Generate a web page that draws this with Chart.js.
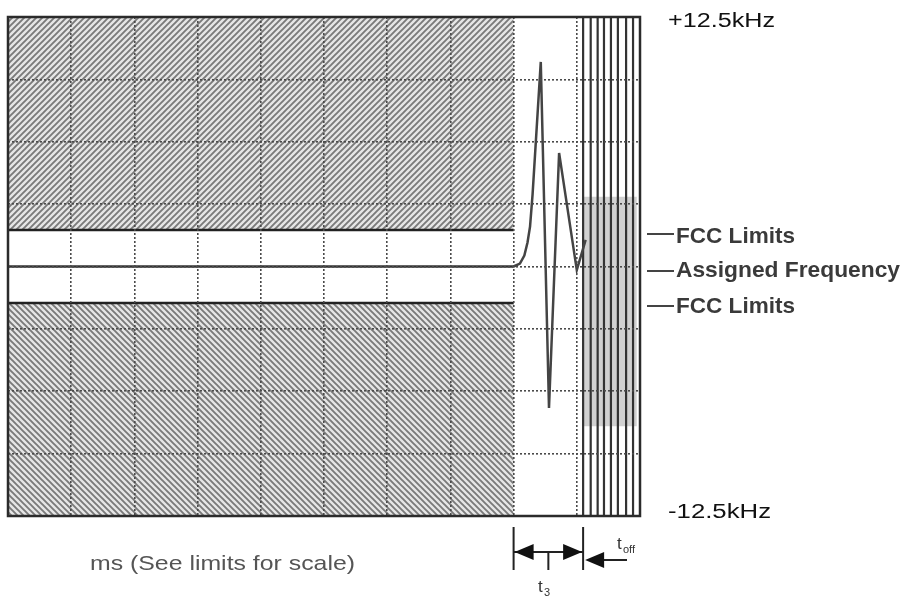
<!DOCTYPE html>
<html>
<head>
<meta charset="utf-8">
<script src="https://cdn.jsdelivr.net/npm/chart.js@4"></script>
<style>
  body { margin: 0; background: #fff; }
  #chart { display: block; }
</style>
</head>
<body>
<canvas id="chart" width="905" height="599"></canvas>
<script>
'use strict'

// scale: 10 time divisions, +-12.5 kHz
const xTicks = [0, 10]
const yTicks = [-12.5, 12.5]
const fccLimit = 1.83
const hatchEnd = 8

// assigned frequency, then the transient
const assignedX = [0, 8]
const assignedY = [0, 0]
const transientX = [8.0, 8.1, 8.17, 8.22, 8.26, 8.3, 8.43, 8.56, 8.72, 9.0, 9.14]
const transientY = [0, 0.15, 0.55, 1.2, 2.0, 3.6, 10.25, -7.09, 5.69, -0.18, 1.33]

// fast oscillation after t3 (vertical sweeps)
const oscX = [9.1, 9.1, 9.22, 9.22, 9.33, 9.33, 9.43, 9.43, 9.54, 9.54, 9.65, 9.65, 9.78, 9.78, 9.89, 9.89]
const oscY = [-12.5, 12.5, 12.5, -12.5, -12.5, 12.5, 12.5, -12.5, -12.5, 12.5, 12.5, -12.5, -12.5, 12.5, 12.5, -12.5]
// where the sweeps overlap most densely (darker band)
const denseX = [9.08, 9.95]
const denseTop = 3.5
const denseBottom = -8

const labels = ['+12.5kHz', '-12.5kHz', 'FCC Limits', 'Assigned Frequency', 'FCC Limits', 'ms (See limits for scale)']

function pts(xs, ys) {
    return xs.map((x, i) => ({x: x, y: ys[i]}))
}

function hatch(dir) {
    let s = 6
    let cv = document.createElement('canvas')
    cv.width = s; cv.height = s
    let c = cv.getContext('2d')
    c.fillStyle = '#e6e6e6'
    c.fillRect(0, 0, s, s)
    c.strokeStyle = '#7a7a7a'
    c.lineWidth = 1.9
    c.beginPath()
    if (dir > 0) {
        c.moveTo(0, s); c.lineTo(s, 0)
        c.moveTo(-1, 1); c.lineTo(1, -1)
        c.moveTo(s - 1, s + 1); c.lineTo(s + 1, s - 1)
    } else {
        c.moveTo(0, 0); c.lineTo(s, s)
        c.moveTo(-1, s - 1); c.lineTo(1, s + 1)
        c.moveTo(s - 1, -1); c.lineTo(s + 1, 1)
    }
    c.stroke()
    return c.createPattern(cv, 'repeat')
}

function text(c, str, x, y, size, width, color, weight) {
    c.save()
    c.font = (weight || 'normal') + ' ' + size + 'px "Liberation Sans", Arial, sans-serif'
    let w = c.measureText(str).width
    c.translate(x, y)
    c.scale(width / w, 1)
    c.fillStyle = color
    c.textBaseline = 'alphabetic'
    c.fillText(str, 0, 0)
    c.restore()
}

function arrow(c, tipX, y, dir, len, half) {
    c.beginPath()
    c.moveTo(tipX, y)
    c.lineTo(tipX + dir * len, y - half)
    c.lineTo(tipX + dir * len, y + half)
    c.closePath()
    c.fill()
}

const notes = {
    id: 'notes',
    afterDraw(chart) {
        let c = chart.ctx
        let a = chart.chartArea
        let sx = chart.scales.x
        c.save()
        c.strokeStyle = '#2b2b2b'
        c.lineWidth = 2.5
        c.strokeRect(a.left, a.top, a.right - a.left, a.bottom - a.top)

        text(c, labels[0], 668, 27, 20, 107, '#111')
        text(c, labels[1], 668, 518, 20, 103, '#111')

        c.strokeStyle = '#444'
        c.lineWidth = 2
        let rows = [[234, 243], [271, 277], [306, 313]]
        rows.forEach((r, i) => {
            c.beginPath(); c.moveTo(647, r[0]); c.lineTo(674, r[0]); c.stroke()
            text(c, labels[2 + i], 676, r[1], 22, i == 1 ? 224 : 119, '#3a3a3a', 'bold')
        })

        text(c, labels[5], 90, 570, 21, 265, '#555')

        // t3 and toff markers
        let x0 = sx.getPixelForValue(hatchEnd)
        let x1 = sx.getPixelForValue(oscX[0])
        c.strokeStyle = '#222'
        c.fillStyle = '#111'
        c.lineWidth = 2
        c.beginPath()
        c.moveTo(x0, 527); c.lineTo(x0, 570)
        c.moveTo(x1, 527); c.lineTo(x1, 570)
        c.moveTo(x0, 552); c.lineTo(x1, 552)
        c.moveTo((x0 + x1) / 2, 552); c.lineTo((x0 + x1) / 2, 570)
        c.moveTo(x1 + 18, 560); c.lineTo(627, 560)
        c.stroke()
        arrow(c, x0 + 1, 552, 1, 19, 8)
        arrow(c, x1 - 1, 552, -1, 19, 8)
        arrow(c, x1 + 2, 560, 1, 19, 8)

        c.fillStyle = '#333'
        c.font = '17px "Liberation Sans", Arial, sans-serif'
        c.fillText('t', 538, 592)
        c.font = '11px "Liberation Sans", Arial, sans-serif'
        c.fillText('3', 544, 596)
        c.font = '17px "Liberation Sans", Arial, sans-serif'
        c.fillText('t', 617, 549)
        c.font = '11px "Liberation Sans", Arial, sans-serif'
        c.fillText('off', 623, 553)
        c.restore()
    }
}

const lineStyle = {type: 'line', showLine: true, pointRadius: 0, fill: false, tension: 0}

const chart = new Chart(document.querySelector('#chart').getContext('2d'), {
    type: 'scatter',
    data: {
        datasets: [
            Object.assign({}, lineStyle, {data: pts(transientX, transientY), borderColor: '#444', borderWidth: 2.5}),
            Object.assign({}, lineStyle, {data: pts(assignedX, assignedY), borderColor: '#333', borderWidth: 2.5}),
            Object.assign({}, lineStyle, {data: pts(assignedX, [fccLimit, fccLimit]), borderColor: '#222', borderWidth: 2.5}),
            Object.assign({}, lineStyle, {data: pts(assignedX, [-fccLimit, -fccLimit]), borderColor: '#222', borderWidth: 2.5}),
            Object.assign({}, lineStyle, {data: pts(oscX, oscY), borderColor: '#333', borderWidth: 2.2}),
            Object.assign({}, lineStyle, {data: pts(denseX, [denseTop, denseTop]), borderWidth: 0,
                fill: {value: denseBottom}, backgroundColor: 'rgba(0,0,0,0.18)'}),
            Object.assign({}, lineStyle, {data: pts(assignedX, [yTicks[1], yTicks[1]]), borderWidth: 0,
                fill: {value: fccLimit}, backgroundColor: hatch(1)}),
            Object.assign({}, lineStyle, {data: pts(assignedX, [yTicks[0], yTicks[0]]), borderWidth: 0,
                fill: {value: -fccLimit}, backgroundColor: hatch(-1)})
        ]
    },
    options: {
        responsive: false,
        animation: false,
        layout: {padding: {left: 8, top: 17, right: 265, bottom: 83}},
        plugins: {legend: {display: false}, tooltip: {enabled: false}},
        scales: {
            x: {
                min: xTicks[0], max: xTicks[1],
                ticks: {display: false, stepSize: 1},
                grid: {color: '#4a4a4a', lineWidth: 1.6, drawTicks: false, z: 1},
                border: {display: false, dash: [2, 2]},
                afterFit: s => { s.height = 0 }
            },
            y: {
                min: yTicks[0], max: yTicks[1],
                ticks: {display: false, stepSize: 3.125},
                grid: {color: '#4a4a4a', lineWidth: 1.6, drawTicks: false, z: 1},
                border: {display: false, dash: [2, 2]},
                afterFit: s => { s.width = 0 }
            }
        }
    },
    plugins: [notes]
})
</script>
</body>
</html>
